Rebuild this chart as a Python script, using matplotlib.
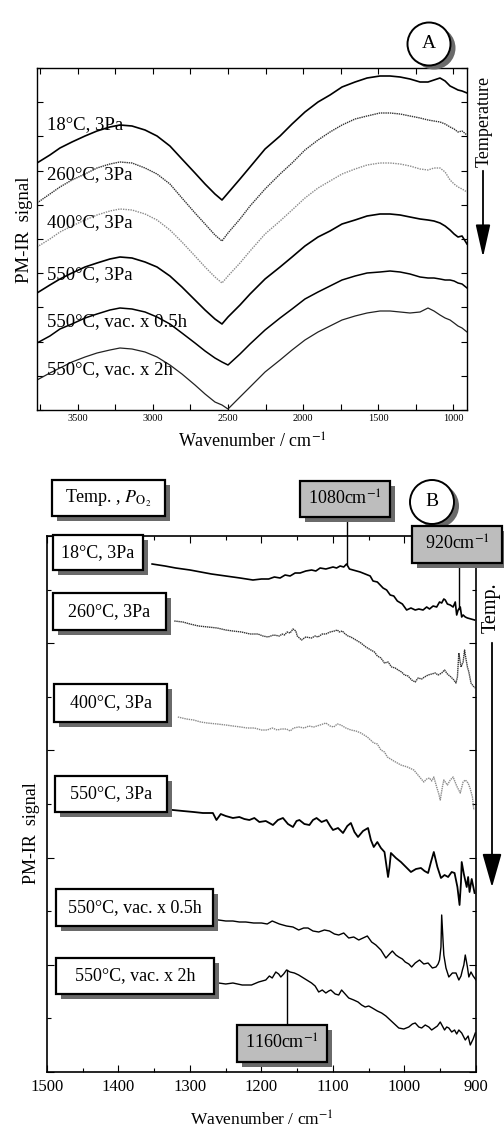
import numpy as np
import matplotlib.pyplot as plt
from matplotlib.patches import Rectangle, Ellipse, FancyArrowPatch
from matplotlib.ticker import MultipleLocator, FixedLocator

plt.rcParams['font.family'] = ['Liberation Serif', 'DejaVu Serif']
plt.rcParams['mathtext.fontset'] = 'stix'

W, H = 504, 1132

# ---- panel A : wide range spectra (offset, arbitrary units) ----
wn_a = [3773, 3687, 3620, 3540, 3453, 3373, 3287, 3220, 3140, 3053, 2973, 2887,
        2807, 2720, 2653, 2587, 2540, 2500, 2420, 2353, 2253, 2153, 2073, 1987,
        1900, 1820, 1740, 1653, 1573, 1487, 1420, 1353, 1287, 1220, 1167, 1127,
        1087, 1053, 1020, 993, 967, 940, 907]
a_18 = [247, 255, 262, 268, 274, 279, 283, 285, 284, 280, 274, 264,
        251, 237, 226, 216, 210, 217, 231, 243, 261, 274, 286, 298,
        308, 315, 323, 328, 332, 334, 334, 333, 331, 328, 328, 330,
        332, 329, 324, 322, 320, 319, 317]
a_260 = [207, 216, 223, 230, 236, 242, 246, 248, 247, 242, 236, 226,
         212, 197, 186, 175, 169, 177, 191, 204, 221, 236, 247, 260,
         270, 278, 285, 291, 294, 297, 297, 296, 294, 292, 290, 289,
         288, 286, 283, 281, 278, 279, 275]
a_400 = [163, 171, 178, 184, 190, 195, 199, 201, 200, 196, 190, 180,
         168, 154, 143, 133, 127, 134, 147, 159, 176, 189, 200, 212,
         222, 229, 236, 241, 245, 247, 247, 246, 244, 241, 240, 242,
         242, 238, 230, 226, 223, 221, 218]
a_550 = [117, 125, 131, 137, 143, 147, 151, 153, 152, 148, 143, 134,
         123, 110, 100, 91, 86, 93, 105, 116, 131, 143, 153, 164,
         173, 179, 186, 190, 194, 196, 196, 195, 193, 191, 190, 189,
         187, 184, 180, 176, 173, 174, 166]
a_vac05 = [67, 74, 81, 86, 92, 96, 100, 102, 101, 98, 93, 86,
           77, 67, 59, 52, 48, 45, 56, 66, 80, 92, 101, 111,
           118, 124, 130, 134, 137, 138, 139, 138, 136, 133, 132, 132,
           131, 130, 130, 129, 127, 126, 122]
a_vac2 = [30, 37, 42, 48, 53, 57, 60, 62, 61, 58, 53, 45,
          36, 25, 16, 8, 5, 1, 13, 23, 38, 50, 60, 70,
          78, 84, 90, 94, 97, 99, 99, 98, 97, 98, 102, 99,
          95, 92, 90, 87, 84, 82, 78]

conditions = ['18°C, 3Pa', '260°C, 3Pa', '400°C, 3Pa', '550°C, 3Pa',
              '550°C, vac. x 0.5h', '550°C, vac. x 2h']
label_a_y = [285, 235, 187, 135, 88, 40]

# ---- panel B : 1500-900 cm-1 ----
wn_b18 = [1353, 1335, 1320, 1300, 1285, 1270, 1250, 1230, 1212, 1200, 1190, 1182,
          1174, 1167, 1160, 1153, 1146, 1138, 1130, 1124, 1118, 1110, 1100, 1095,
          1090, 1085, 1081, 1077, 1072, 1067, 1062, 1055, 1048, 1044, 1038, 1030,
          1025, 1020, 1015, 1010, 1003, 997, 991, 985, 980, 974, 969, 965,
          960, 955, 951, 948, 945, 943, 940, 936, 932, 929, 927, 925,
          922, 920, 918, 915, 912, 907, 902]
b18 = [508, 506, 504, 502, 500, 498, 496, 494, 492, 493, 493, 495,
       494, 497, 496, 499, 499, 501, 502, 501, 504, 503, 505, 504,
       506, 505, 508, 503, 502, 501, 500, 498, 496, 491, 490, 484,
       482, 477, 476, 471, 468, 462, 464, 462, 463, 462, 465, 463,
       466, 465, 470, 469, 473, 472, 468, 467, 465, 470, 457, 462,
       465, 455, 457, 455, 454, 453, 452]

wn_b260 = [1322, 1310, 1300, 1288, 1275, 1262, 1250, 1240, 1228, 1216, 1205, 1198,
           1191, 1183, 1175, 1171, 1168, 1164, 1160, 1156, 1152, 1150, 1147, 1144,
           1138, 1130, 1125, 1121, 1115, 1110, 1104, 1098, 1094, 1091, 1087, 1083,
           1079, 1075, 1068, 1061, 1054, 1047, 1042, 1038, 1033, 1028, 1023, 1018,
           1013, 1009, 1004, 1000, 995, 990, 985, 981, 976, 972, 967, 962,
           957, 953, 948, 944, 940, 935, 931, 928, 926, 924, 921, 918,
           916, 914, 912, 910, 907, 904, 901]
b260 = [451, 450, 448, 446, 445, 444, 442, 441, 440, 438, 438, 436,
        435, 437, 436, 438, 437, 440, 439, 443, 441, 436, 434, 432,
        435, 434, 436, 435, 438, 438, 440, 441, 442, 440, 441, 438,
        436, 435, 432, 429, 425, 422, 420, 416, 414, 409, 410, 405,
        404, 402, 400, 397, 396, 392, 390, 394, 393, 395, 397, 398,
        399, 397, 399, 402, 398, 395, 392, 389, 395, 419, 405, 410,
        422, 413, 405, 400, 389, 386, 384]

wn_b400 = [1317, 1305, 1295, 1285, 1276, 1262, 1250, 1240, 1229, 1220, 1210, 1200,
           1192, 1185, 1178, 1172, 1165, 1160, 1155, 1148, 1140, 1134, 1127, 1118,
           1110, 1104, 1099, 1094, 1089, 1082, 1075, 1068, 1061, 1052, 1043, 1038,
           1033, 1028, 1024, 1015, 1005, 996, 987, 980, 973, 969, 965, 962,
           959, 955, 952, 950, 947, 945, 942, 940, 936, 932, 927, 922,
           918, 915, 911, 908, 905, 903]
b400 = [355, 353, 352, 350, 349, 348, 347, 346, 345, 344, 344, 342,
        342, 344, 342, 343, 343, 341, 344, 345, 344, 346, 345, 347,
        349, 346, 345, 348, 347, 344, 342, 341, 339, 335, 329, 328,
        322, 320, 315, 311, 307, 305, 302, 296, 290, 293, 294, 291,
        295, 285, 278, 272, 285, 292, 289, 287, 292, 295, 286, 279,
        290, 292, 289, 283, 275, 262]

wn_b550 = [1324, 1310, 1295, 1282, 1268, 1263, 1257, 1250, 1240, 1231, 1224, 1217,
           1210, 1203, 1194, 1184, 1177, 1170, 1163, 1156, 1151, 1147, 1140, 1133,
           1128, 1123, 1116, 1109, 1104, 1100, 1093, 1086, 1080, 1075, 1070, 1065,
           1058, 1051, 1047, 1043, 1038, 1033, 1028, 1023, 1021, 1019, 1012, 1005,
           998, 991, 984, 977, 972, 967, 963, 959, 954, 949, 944, 939,
           934, 930, 926, 923, 921, 920, 917, 913, 911, 909, 906, 902]
b550 = [262, 261, 260, 259, 259, 252, 258, 256, 254, 255, 253, 252,
        254, 250, 251, 247, 252, 254, 248, 245, 251, 252, 248, 247,
        252, 254, 250, 252, 246, 242, 244, 239, 246, 249, 240, 235,
        241, 244, 232, 225, 230, 224, 220, 195, 205, 219, 214, 210,
        205, 200, 203, 204, 201, 199, 210, 220, 205, 194, 197, 195,
        200, 199, 185, 167, 190, 210, 198, 185, 195, 180, 193, 179]

wn_bv05 = [1260, 1250, 1240, 1231, 1222, 1211, 1200, 1192, 1185, 1175, 1165, 1156,
           1148, 1141, 1135, 1128, 1120, 1112, 1105, 1098, 1092, 1085, 1078, 1071,
           1064, 1058, 1052, 1046, 1040, 1033, 1026, 1021, 1017, 1012, 1008, 1003,
           999, 994, 990, 985, 979, 973, 967, 961, 956, 953, 951, 949,
           948, 946, 945, 942, 938, 933, 928, 924, 921, 919, 917, 915,
           912, 910, 907, 904, 900]
bv05 = [152, 151, 151, 150, 150, 149, 149, 148, 151, 148, 146, 145,
        142, 144, 144, 141, 140, 142, 141, 138, 137, 139, 134, 135,
        132, 134, 136, 130, 127, 122, 114, 118, 121, 117, 115, 113,
        110, 108, 105, 109, 112, 108, 109, 104, 105, 108, 112, 125,
        157, 130, 117, 104, 95, 99, 99, 92, 96, 102, 107, 117,
        105, 95, 100, 96, 92]

wn_bv2 = [1260, 1250, 1240, 1227, 1214, 1204, 1194, 1189, 1185, 1180, 1176, 1173,
          1169, 1165, 1160, 1154, 1148, 1139, 1130, 1125, 1120, 1115, 1110, 1106,
          1103, 1097, 1092, 1088, 1083, 1078, 1071, 1065, 1060, 1055, 1050, 1045,
          1038, 1032, 1026, 1020, 1014, 1008, 1001, 994, 989, 985, 980, 976,
          971, 966, 962, 958, 954, 950, 947, 944, 941, 938, 934, 930,
          927, 924, 920, 915, 911, 908, 904, 901]
bv2 = [89, 88, 89, 87, 87, 90, 92, 96, 94, 100, 98, 95,
       98, 102, 100, 99, 97, 93, 89, 86, 80, 82, 79, 81,
       82, 78, 77, 82, 78, 74, 72, 70, 67, 65, 66, 64,
       61, 59, 56, 52, 48, 44, 43, 45, 48, 49, 45, 44,
       47, 45, 42, 44, 46, 50, 46, 42, 45, 44, 40, 42,
       38, 42, 39, 32, 36, 27, 33, 39]

peak_marks = ['1080cm$^{-1}$', '920cm$^{-1}$', '1160cm$^{-1}$']

fig = plt.figure(figsize=(W / 100, H / 100), dpi=100)


def fx(x):
    return x / W


def fy(y):
    return 1 - y / H


def box(x0, y0, x1, y1, text, fc='white', size=13):
    sh = Rectangle((fx(x0 + 5), fy(y1 + 5)), (x1 - x0) / W, (y1 - y0) / H,
                   transform=fig.transFigure, fc='#6a6a6a', ec='none', zorder=5)
    bx = Rectangle((fx(x0), fy(y1)), (x1 - x0) / W, (y1 - y0) / H,
                   transform=fig.transFigure, fc=fc, ec='black', lw=1.6, zorder=6)
    fig.add_artist(sh)
    fig.add_artist(bx)
    fig.text(fx((x0 + x1) / 2), fy((y0 + y1) / 2), text, ha='center', va='center',
             fontsize=size, zorder=7)


def circle(cx, cy, r, letter):
    fig.add_artist(Ellipse((fx(cx + 5), fy(cy + 4)), 2 * r / W, 2 * r / H,
                           transform=fig.transFigure, fc='#6a6a6a', ec='none', zorder=5))
    fig.add_artist(Ellipse((fx(cx), fy(cy)), 2 * r / W, 2 * r / H,
                           transform=fig.transFigure, fc='white', ec='black', lw=1.4, zorder=6))
    fig.text(fx(cx), fy(cy), letter, ha='center', va='center', fontsize=14, zorder=7)


def down_arrow(x, y0, y1, hl, hw):
    fig.add_artist(FancyArrowPatch((fx(x), fy(y0)), (fx(x), fy(y1)), transform=fig.transFigure,
                                   arrowstyle='-|>,head_length=%s,head_width=%s' % (hl, hw),
                                   mutation_scale=10, lw=1.3, color='black'))


# ---------------- panel A ----------------
axA = fig.add_axes([fx(37), fy(410), 430 / W, 342 / H])
axA.plot(wn_a, a_18, color='black', lw=1.2)
axA.plot(wn_a, a_260, color='#333333', lw=1.0, ls=(0, (1, 0.6)))
axA.plot(wn_a, a_400, color='#8a8a8a', lw=1.0, ls=(0, (1, 0.8)))
axA.plot(wn_a, a_550, color='black', lw=1.2)
axA.plot(wn_a, a_vac05, color='black', lw=1.1)
axA.plot(wn_a, a_vac2, color='#222222', lw=0.9)
for lab, yy in zip(conditions, label_a_y):
    axA.text(3707, yy, lab, fontsize=13.5, va='center', ha='left')
axA.set_xlim(3773, 907)
axA.set_ylim(0, 342)
axA.xaxis.set_major_locator(MultipleLocator(500))
axA.xaxis.set_minor_locator(MultipleLocator(250))
axA.yaxis.set_major_locator(FixedLocator(np.linspace(0, 342, 11)))
axA.set_yticklabels([])
axA.tick_params(which='both', direction='in', top=True, right=True, length=4, width=0.8)
axA.tick_params(axis='x', labelsize=7.5, pad=3)
axA.set_xlabel('Wavenumber / cm$^{-1}$', fontsize=13, labelpad=7)
axA.set_ylabel('PM-IR  signal', fontsize=13.5)
axA.yaxis.set_label_coords(-0.01, 0.526)
for s in axA.spines.values():
    s.set_linewidth(1.0)

circle(429, 44, 21.5, 'A')
fig.text(fx(484), fy(121), 'Temperature', rotation=90, ha='center', va='center', fontsize=13)
down_arrow(483, 168, 260, 2.0, 0.45)

# ---------------- panel B ----------------
axB = fig.add_axes([fx(47), fy(1072), 429 / W, 536 / H])
axB.plot(wn_b18, b18, color='black', lw=1.2)
axB.plot(wn_b260, b260, color='#333333', lw=1.0, ls=(0, (1, 0.5)))
axB.plot(wn_b400, b400, color='#8a8a8a', lw=1.0, ls=(0, (1, 0.6)))
axB.plot(wn_b550, b550, color='black', lw=1.3)
axB.plot(wn_bv05, bv05, color='black', lw=1.0)
axB.plot(wn_bv2, bv2, color='black', lw=1.0)

# marker lines to the labelled bands
y1080 = np.interp(1081, wn_b18[::-1], b18[::-1])
axB.plot([1081, 1081], [y1080, 560], color='black', lw=1.0, clip_on=False)
y920 = np.interp(924, wn_b18[::-1], b18[::-1])
axB.plot([924, 924], [y920, 520], color='black', lw=1.0, clip_on=False)
y1160 = np.interp(1165, wn_bv2[::-1], bv2[::-1])
axB.plot([1165, 1165], [40, y1160], color='black', lw=1.0)

axB.set_xlim(1500, 900)
axB.set_ylim(0, 536)
axB.xaxis.set_major_locator(MultipleLocator(100))
axB.xaxis.set_minor_locator(MultipleLocator(50))
axB.yaxis.set_major_locator(FixedLocator(np.linspace(0, 536, 6)))
axB.yaxis.set_minor_locator(FixedLocator(np.linspace(0, 536, 11)))
axB.set_yticklabels([])
axB.tick_params(which='both', direction='in', top=True, right=True, width=0.8)
axB.tick_params(which='major', length=5)
axB.tick_params(which='minor', length=3)
axB.tick_params(axis='x', labelsize=12, pad=5)
axB.set_xlabel('Wavenumber / cm$^{-1}$', fontsize=12.5, labelpad=11)
axB.set_ylabel('PM-IR  signal', fontsize=13)
axB.yaxis.set_label_coords(-0.016, 0.446)
for s in axB.spines.values():
    s.set_linewidth(1.2)

box(52, 480, 165, 516, 'Temp. , $P_{\\mathrm{O_2}}$')
box(300, 481, 390, 517, peak_marks[0], fc='#bdbdbd')
box(412, 526, 502, 563, peak_marks[1], fc='#bdbdbd')
box(237, 1025, 327, 1062, peak_marks[2], fc='#bdbdbd')
box_px = [(53, 535, 143, 570), (53, 593, 166, 630), (54, 684, 167, 722),
          (55, 776, 167, 812), (56, 889, 213, 926), (56, 958, 214, 994)]
for lab, (x0, y0, x1, y1) in zip(conditions, box_px):
    box(x0, y0, x1, y1, lab)

circle(432, 502, 22, 'B')
fig.text(fx(491), fy(608), 'Temp.', rotation=90, ha='center', va='center', fontsize=14.5)
down_arrow(492, 640, 890, 2.1, 0.6)

fig.savefig('out.png', dpi=100)
